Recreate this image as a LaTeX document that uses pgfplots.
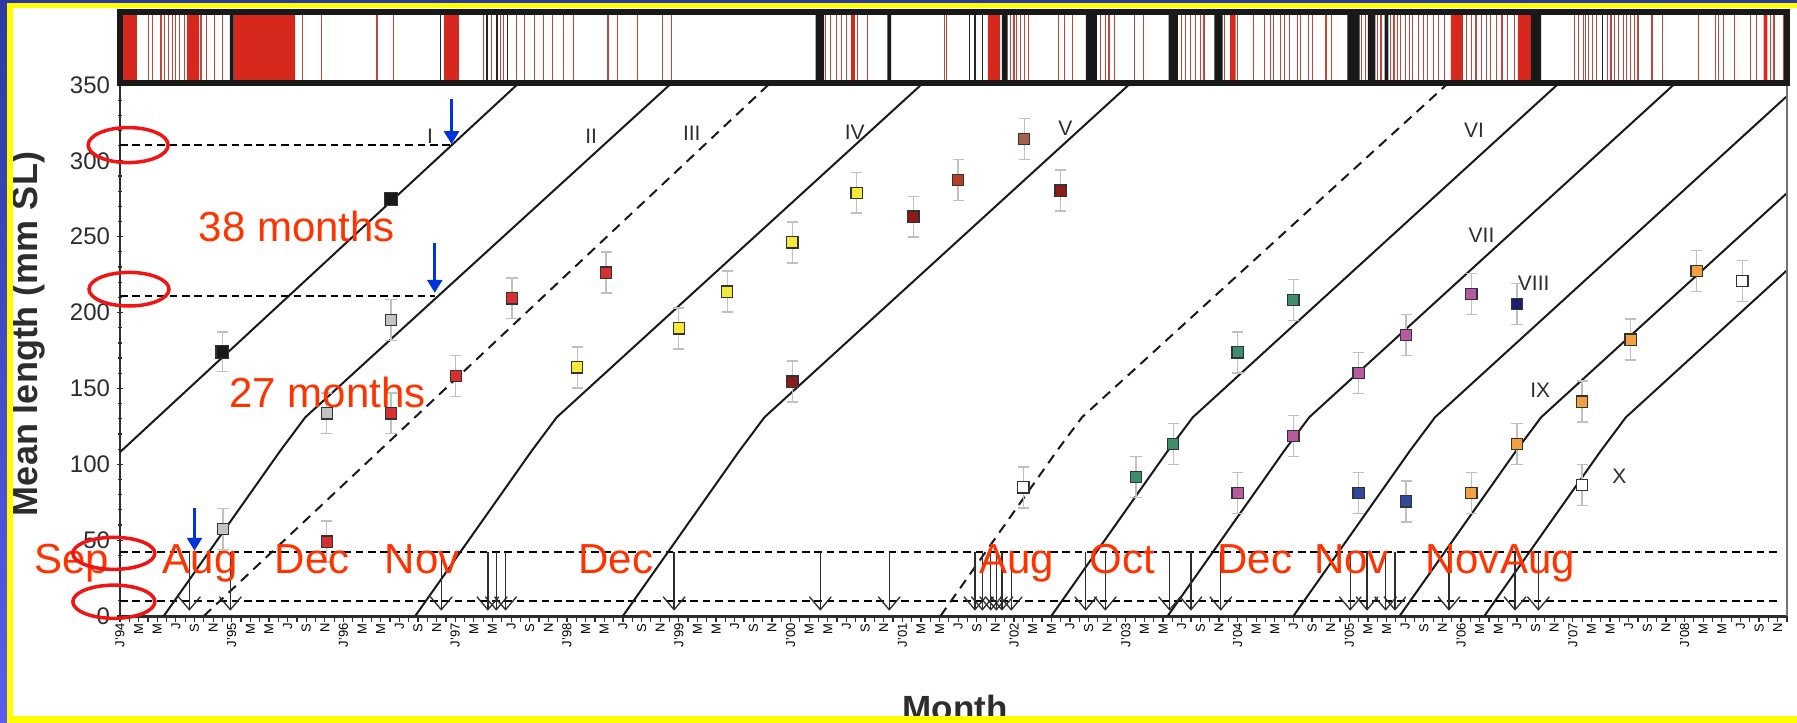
\documentclass[border=0pt]{standalone}
\usepackage{pgfplots}
\pgfplotsset{compat=1.18}
\usepackage{fontspec}
\setmainfont{Liberation Sans}
\usetikzlibrary{arrows.meta}
\definecolor{bordblueT}{RGB}{44,58,160}
\definecolor{bordblueB}{RGB}{92,92,240}
\definecolor{fyellow}{RGB}{255,255,0}
\definecolor{annred}{RGB}{255,51,0}
\definecolor{ellred}{RGB}{240,20,20}
\definecolor{arrblue}{RGB}{0,51,221}
\definecolor{errgray}{RGB}{192,192,192}
\definecolor{txtgray}{RGB}{45,45,45}
\definecolor{stripred}{RGB}{215,40,30}
\definecolor{stripline}{RGB}{195,70,60}
\definecolor{cgray}{RGB}{195,195,195}
\definecolor{cred}{RGB}{216,48,48}
\definecolor{cyellow}{RGB}{242,233,60}
\definecolor{cdarkred}{RGB}{139,28,28}
\definecolor{credbrown}{RGB}{181,64,42}
\definecolor{cbrown}{RGB}{168,96,78}
\definecolor{cgreen}{RGB}{62,142,110}
\definecolor{cpink}{RGB}{184,90,160}
\definecolor{cblue}{RGB}{46,74,154}
\definecolor{cnavy}{RGB}{30,30,112}
\definecolor{corange}{RGB}{242,160,64}
\pgfplotsset{
  sq/.style={only marks, mark=square*,
    mark options={draw=black!80, line width=0.6bp, fill=#1},
    error bars/.cd, y dir=both, y explicit,
    error bar style={errgray, line width=0.7bp},
    error mark options={errgray, rotate=90, mark size=2.8bp, line width=0.7bp}},
  cohort/.style={no marks, line width=1bp, color=black!90},
  hdash/.style={no marks, line width=0.9bp, color=black, dash pattern=on 3.8bp off 2.4bp},
}
\begin{document}
\begin{tikzpicture}
\path[use as bounding box] (0bp,0bp) rectangle (898.5bp,361.5bp);
\fill[white] (0bp,0bp) rectangle (898.5bp,361.5bp);

\begin{axis}[
  at={(60bp,53.5bp)}, anchor=south west, scale only axis,
  width=833.5bp, height=265.5bp,
  xmin=0, xmax=179, ymin=0, ymax=350,
  clip=false,
  axis x line*=bottom, axis y line*=left,
  x axis line style={line width=1.5bp, color=txtgray},
  y axis line style={line width=1.2bp, color=txtgray},
  xtick={0,1,...,179},
  xticklabels={J'94,,M,,M,,J,,S,,N,,J'95,,M,,M,,J,,S,,N,,J'96,,M,,M,,J,,S,,N,,J'97,,M,,M,,J,,S,,N,,J'98,,M,,M,,J,,S,,N,,J'99,,M,,M,,J,,S,,N,,J'00,,M,,M,,J,,S,,N,,J'01,,M,,M,,J,,S,,N,,J'02,,M,,M,,J,,S,,N,,J'03,,M,,M,,J,,S,,N,,J'04,,M,,M,,J,,S,,N,,J'05,,M,,M,,J,,S,,N,,J'06,,M,,M,,J,,S,,N,,J'07,,M,,M,,J,,S,,N,,J'08,,M,,M,,J,,S,,N,},
  ytick={0,50,...,350},
  minor y tick num=4,
  xtick align=outside, ytick align=center,
  major tick length=3bp, minor tick length=2.5bp,
  tick style={line width=0.6bp, color=txtgray},
  xticklabel style={rotate=90, anchor=east, inner sep=0.5bp, font=\fontsize{6.5bp}{7bp}\selectfont},
  yticklabel style={font=\fontsize{12bp}{14bp}\selectfont, text=txtgray},
  /pgf/number format/assume math mode=true,
]
% horizontal dashed reference lines
\addplot[hdash] coordinates {(0,310.5) (35.6,310.5)};
\addplot[hdash] coordinates {(0,211) (33.8,211)};
\addplot[hdash] coordinates {(0,42) (178.2,42)};
\addplot[hdash] coordinates {(0,10) (178.2,10)};
% cohort growth lines
\addplot[cohort] coordinates {(0,108) (42.6,350)};
\addplot[cohort] coordinates {(4.7,0) (17.2,108.8) (19.9,131) (22.9,147.8) (59.0,350)};
\addplot[cohort, dash pattern=on 5bp off 3.5bp] coordinates {(9,0) (69.6,350)};
\addplot[cohort] coordinates {(31.7,0) (44.2,108.8) (46.9,131) (49.9,147.8) (86.0,350)};
\addplot[cohort] coordinates {(54,0) (66.5,108.8) (69.2,131) (72.2,147.8) (108.3,350)};
\addplot[cohort, dash pattern=on 5bp off 3.5bp] coordinates {(88.1,0) (100.6,108.8) (103.3,131) (106.3,147.8) (142.4,350)};
\addplot[cohort] coordinates {(100,0) (112.5,108.8) (115.2,131) (118.2,147.8) (154.3,350)};
\addplot[cohort] coordinates {(112.5,0) (125,108.8) (127.7,131) (130.7,147.8) (166.8,350)};
\addplot[cohort] coordinates {(126,0) (138.5,108.8) (141.2,131) (144.2,147.8) (179,342.7)};
\addplot[cohort] coordinates {(137.4,0) (149.9,108.8) (152.6,131) (155.6,147.8) (179,278.8)};
\addplot[cohort] coordinates {(146.5,0) (159,108.8) (161.7,131) (164.7,147.8) (179,227.9)};
% recruitment arrows
\addplot[txtgray, line width=0.65bp, quiver={u=0,v=-38.5}, -{Straight Barb[length=6.5bp,width=11bp]}] coordinates {
(7.45,42) (11.85,42) (34.5,42) (39.5,42) (40.4,42) (41.4,42) (59.5,42) (75.2,42) (82.6,42)
(91.8,42) (92.6,42) (93.5,42) (94.1,42) (94.7,42) (95.7,42) (103.7,42) (105.8,42) (112.7,42)
(115.0,42) (118.2,42) (132.1,42) (133.9,42) (135.9,42) (136.9,42) (142.7,42) (149.8,42) (152.3,42)};
% data points
\addplot[mark size=3.2bp, sq=black!90] coordinates {(11.0,174.2) +- (0,13) (29.1,274.7) +- (0,4)};
\addplot[mark size=2.8bp, sq=cgray] coordinates {(11.07,57.3) +- (0,13.5) (22.2,133.6) +- (0,13.5) (29.1,195.1) +- (0,13.5)};
\addplot[mark size=2.8bp, sq=cred] coordinates {(22.2,49) +- (0,13.5) (29.1,133.6) +- (0,13.5) (36.05,158.2) +- (0,13.5) (42.1,209.4) +- (0,13.5) (52.2,226.3) +- (0,13.5)};
\addplot[mark size=2.8bp, sq=cyellow] coordinates {(49.1,163.9) +- (0,13.5) (60.0,189.6) +- (0,13.5) (65.2,213.8) +- (0,13.5) (72.2,246.3) +- (0,13.5) (79.1,279) +- (0,13.5)};
\addplot[mark size=2.8bp, sq=cdarkred] coordinates {(72.2,154.5) +- (0,13.5) (85.2,263.2) +- (0,13.5) (101.0,280.4) +- (0,13.5)};
\addplot[mark size=2.8bp, sq=credbrown] coordinates {(90.0,287.4) +- (0,13.5)};
\addplot[mark size=2.8bp, sq=cbrown] coordinates {(97.1,314.4) +- (0,13.5)};
\addplot[mark size=2.8bp, sq=white] coordinates {(97.0,84.8) +- (0,13.5) (157.0,86.4) +- (0,13.5) (174.2,220.7) +- (0,13.5)};
\addplot[mark size=2.8bp, sq=cgreen] coordinates {(109.1,91.8) +- (0,13.5) (113.1,113.2) +- (0,13.5) (120.0,173.8) +- (0,13.5) (126.0,208.1) +- (0,13.5)};
\addplot[mark size=2.8bp, sq=cpink] coordinates {(120.0,80.9) +- (0,13.5) (126.0,118.6) +- (0,13.5) (133.0,160) +- (0,13.5) (138.1,185.2) +- (0,13.5) (145.1,212.3) +- (0,13.5)};
\addplot[mark size=2.8bp, sq=cblue] coordinates {(133.0,80.9) +- (0,13.5) (138.1,75.5) +- (0,13.5)};
\addplot[mark size=2.8bp, sq=cnavy] coordinates {(150.0,205.5) +- (0,13.5)};
\addplot[mark size=2.8bp, sq=corange] coordinates {(145.1,80.9) +- (0,13.5) (150.0,113.2) +- (0,13.5) (157.0,141.3) +- (0,13.5) (162.2,182.2) +- (0,13.5) (169.3,227.5) +- (0,13.5)};
% right frame line
\draw[black!55, line width=0.6bp] (axis cs:179,0) -- (axis cs:179,350);
% cohort labels
\begin{scope}[every node/.style={font=\fontsize{10.5bp}{12bp}\selectfont, text=txtgray, inner sep=0pt}]
\node at (axis cs:33.3,316) {I};
\node at (axis cs:50.6,316) {II};
\node at (axis cs:61.4,318) {III};
\node at (axis cs:78.9,318.8) {IV};
\node at (axis cs:101.5,321.5) {V};
\node at (axis cs:145.4,320.4) {VI};
\node at (axis cs:146.2,251) {VII};
\node at (axis cs:151.8,219) {VIII};
\node at (axis cs:152.5,149) {IX};
\node at (axis cs:161,91.8) {X};
\end{scope}
% red annotations
\begin{scope}[every node/.style={font=\fontsize{21bp}{24bp}\selectfont, text=annred, inner sep=0pt}]
\node[anchor=base] at (axis cs:19.0,246.7) {38 months};
\node[anchor=base] at (axis cs:22.3,137.1) {27 months};
\node[anchor=base west] at (axis cs:-9.27,28.3) {Sep};
\node[anchor=base west] at (axis cs:4.57,28.3) {Aug};
\node[anchor=base west] at (axis cs:16.6,28.3) {Dec};
\node[anchor=base west] at (axis cs:28.4,28.3) {Nov};
\node[anchor=base west] at (axis cs:49.2,28.3) {Dec};
\node[anchor=base west] at (axis cs:92.2,28.3) {Aug};
\node[anchor=base west] at (axis cs:104.1,28.3) {Oct};
\node[anchor=base west] at (axis cs:117.8,28.3) {Dec};
\node[anchor=base west] at (axis cs:128.2,28.3) {Nov};
\node[anchor=base west] at (axis cs:140.1,28.3) {Nov};
\node[anchor=base west] at (axis cs:148.2,28.3) {Aug};
\end{scope}
\draw[ellred, line width=1.75bp] (axis cs:0.88,310.4) ellipse [x radius=20bp, y radius=8.75bp];
\draw[ellred, line width=1.75bp] (axis cs:0.97,215.4) ellipse [x radius=20bp, y radius=8.4bp];
\draw[ellred, line width=1.75bp] (axis cs:-0.66,41.3) ellipse [x radius=20.5bp, y radius=8bp];
\draw[ellred, line width=1.75bp] (axis cs:-0.66,9.4) ellipse [x radius=20.5bp, y radius=8.3bp];
% blue arrows
\addplot[arrblue, line width=1.4bp, quiver={u=0,v=-30}, -{Triangle[length=6.5bp,width=7.5bp]}] coordinates {(35.6,341)};
\addplot[arrblue, line width=1.4bp, quiver={u=0,v=-33}, -{Triangle[length=6.5bp,width=7.5bp]}] coordinates {(33.8,246)};
\addplot[arrblue, line width=1.4bp, quiver={u=0,v=-28}, -{Triangle[length=6.5bp,width=7.5bp]}] coordinates {(8.0,71)};
\end{axis}

% barcode strip
\begin{axis}[
  at={(60bp,320bp)}, anchor=south west, scale only axis,
  width=833.5bp, height=35.5bp,
  xmin=0, xmax=179, ymin=0, ymax=1,
  ticks=none, axis on top,
  axis line style={line width=2.8bp, color=black!90},
]
\addplot[const plot, fill=stripred, draw=none] coordinates {
(0,0) (0.3,1) (1.8,0) (7.2,1) (8.5,0) (12.2,1) (18.8,0) (34.8,1) (36.4,0) (78.5,1) (78.9,0)
(93.2,1) (94.5,0) (119.2,1) (119.8,0) (142.9,1) (144.2,0) (150.1,1) (151.5,0) (176.5,1) (176.9,0) (179,0)} \closedcycle;
\addplot[const plot, fill=black!90, draw=none] coordinates {
(0,0) (11.8,1) (12.2,0) (74.7,1) (75.6,0) (82.4,1) (82.8,0) (94.7,1) (95.3,0) (103.7,1) (104.9,0)
(112.6,1) (113.6,0) (117.5,1) (118.4,0) (131.8,1) (133.1,0) (134.0,1) (134.8,0) (135.8,1) (136.2,0)
(151.5,1) (152.6,0) (179,0)} \closedcycle;
\addplot[ycomb, stripline, line width=0.55bp, no marks] coordinates {
(3.1,1) (3.5,1) (4.4,1) (4.8,1) (5.2,1) (5.6,1) (6.0,1) (6.4,1) (6.9,1) (8.7,1) (9.3,1) (10.1,1) (11.0,1)
(19.6,1) (21.6,1) (27.6,1) (29.4,1) (39.0,1) (39.9,1) (40.9,1) (41.2,1) (42.6,1) (43.4,1) (44.5,1)
(45.5,1) (46.4,1) (47.6,1) (48.7,1) (52.4,1) (53.4,1) (55.6,1) (58.3,1) (59.2,1) (75.8,1) (76.3,1)
(76.9,1) (77.5,1) (78.0,1) (79.2,1) (80.3,1) (88.5,1) (88.7,1) (95.6,1) (96.0,1) (96.3,1) (96.7,1)
(97.1,1) (97.6,1) (100.8,1) (101.4,1) (102.3,1) (105.3,1) (105.8,1) (106.2,1) (106.8,1) (108.9,1)
(109.9,1) (114.0,1) (114.4,1) (114.9,1) (115.5,1) (116.0,1) (116.4,1) (118.6,1) (120.0,1) (121.7,1)
(122.9,1) (123.5,1) (123.9,1) (124.6,1) (125.0,1) (125.6,1) (126.4,1) (126.8,1) (127.6,1) (128.0,1)
(129.5,1) (130.1,1) (133.3,1) (133.7,1) (135.0,1) (135.4,1) (136.4,1) (136.8,1) (137.2,1) (137.5,1)
(138.0,1) (138.5,1) (138.8,1) (139.4,1) (140.0,1) (140.4,1) (141.0,1) (141.6,1) (142.2,1) (144.6,1)
(145.1,1) (145.6,1) (146.2,1) (146.7,1) (147.2,1) (147.8,1) (148.4,1) (149.0,1) (149.7,1) (156.2,1)
(156.6,1) (157.1,1) (157.4,1) (157.7,1) (158.1,1) (158.5,1) (159.7,1) (160.1,1) (160.5,1) (160.9,1)
(161.4,1) (161.8,1) (162.2,1) (162.6,1) (163.0,1) (164.5,1) (165.6,1) (169.5,1) (171.3,1) (171.6,1)
(172.2,1) (173.4,1) (175.1,1) (175.7,1) (177.2,1) (177.6,1) (178.6,1)};
\addplot[ycomb, black!85, line width=0.7bp, no marks] coordinates {
(34.4,1) (39.4,1) (40.5,1) (41.6,1) (91.2,1) (91.8,1) (92.6,1) (159.2,1)};
\end{axis}

% axis titles
\node[rotate=90, font=\bfseries\fontsize{18bp}{20bp}\selectfont, text=txtgray] at (14bp,194.5bp) {Mean length (mm SL)};
\node[anchor=base, font=\bfseries\fontsize{17.5bp}{20bp}\selectfont, text=txtgray] at (477.5bp,1.5bp) {Month};

% frame
\shade[top color=bordblueT, bottom color=bordblueB] (0bp,0bp) rectangle (3.5bp,361.5bp);
\fill[bordblueT] (0bp,360bp) rectangle (898.5bp,361.5bp);
\fill[fyellow] (3.5bp,0bp) rectangle (6.5bp,360bp);
\fill[fyellow] (3.5bp,357.5bp) rectangle (898.5bp,360bp);
\fill[fyellow] (3.5bp,0bp) rectangle (898.5bp,3.5bp);
\end{tikzpicture}
\end{document}
